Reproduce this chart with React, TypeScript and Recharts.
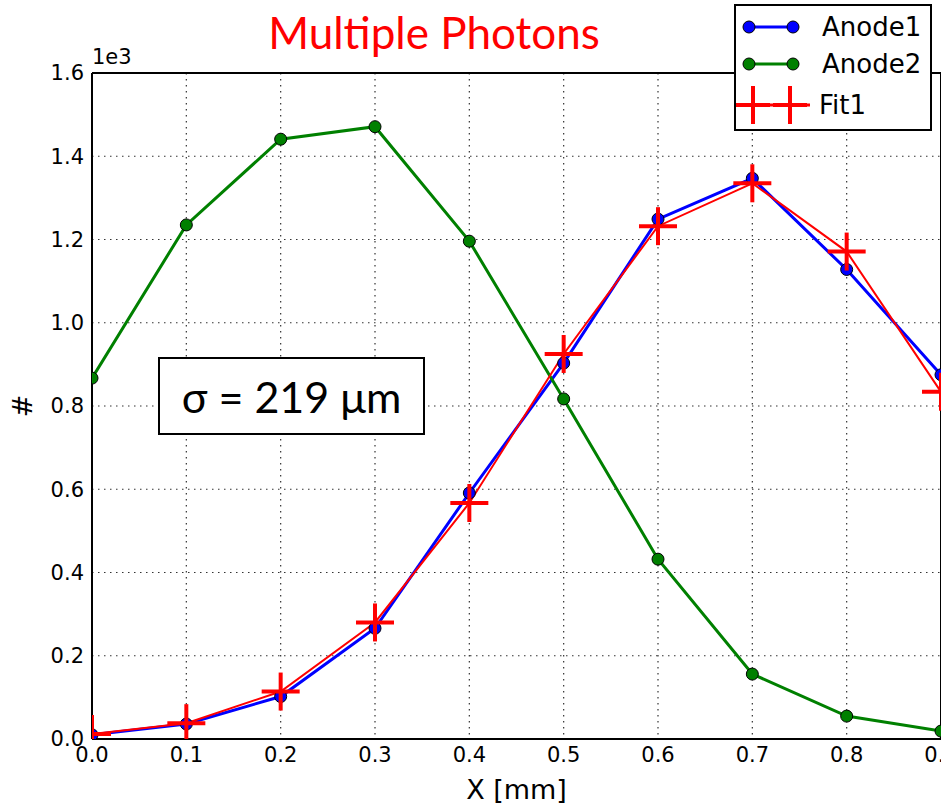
import { LineChart, Line, XAxis, YAxis, CartesianGrid, ReferenceLine, Legend } from 'recharts';

const xs = [0, 0.1, 0.2, 0.3, 0.4, 0.5, 0.6, 0.7, 0.8, 0.9];
const anode1 = [10, 36, 102, 266, 591, 903, 1249, 1347, 1128, 875];
const anode2 = [867, 1235, 1441, 1471, 1196, 817, 432, 156, 55, 19];
const fit1 = [12, 38, 114, 280, 567, 925, 1232, 1335, 1171, 834];
const yTicks = [0, 200, 400, 600, 800, 1000, 1200, 1400, 1600];

const legendItems = [
  { name: 'Anode1', color: '#0000ff', marker: 'circle' },
  { name: 'Anode2', color: '#008000', marker: 'circle' },
  { name: 'Fit1', color: '#ff0000', marker: 'plus' },
];

const data = xs.map((x, i) => ({ x, anode1: anode1[i], anode2: anode2[i], fit1: fit1[i] }));

const mplFont = '"DejaVu Sans", sans-serif';
const slideFont = 'Lato, "Open Sans", sans-serif';

function plusDot(props: any) {
  const { cx, cy, index } = props;
  if (cx == null || cy == null) return <g key={`fp-${index}`} />;
  return (
    <g key={`fp-${index}`}>
      <line x1={cx - 19} x2={cx + 19} y1={cy} y2={cy} stroke="#ff0000" strokeWidth={4} />
      <line x1={cx} x2={cx} y1={cy - 19} y2={cy + 19} stroke="#ff0000" strokeWidth={4} />
    </g>
  );
}

function MplLegend() {
  const rows = [23, 60, 101];
  return (
    <svg width={198} height={127} style={{ display: 'block' }}>
      <rect x={1} y={1} width={196} height={125} fill="#fff" stroke="#000" strokeWidth={2} />
      {legendItems.map((it, i) => {
        const y = rows[i];
        if (it.marker === 'plus') {
          return (
            <g key={it.name}>
              <line x1={2} x2={76} y1={y} y2={y} stroke={it.color} strokeWidth={3} />
              {[19, 56].map((cx) => (
                <g key={cx}>
                  <line x1={cx - 17} x2={cx + 17} y1={y} y2={y} stroke={it.color} strokeWidth={4} />
                  <line x1={cx} x2={cx} y1={y - 19} y2={y + 19} stroke={it.color} strokeWidth={4} />
                </g>
              ))}
              <text x={85} y={y + 9} fontSize={26} fontFamily={mplFont} fill="#000">{it.name}</text>
            </g>
          );
        }
        return (
          <g key={it.name}>
            <line x1={15} x2={59} y1={y} y2={y} stroke={it.color} strokeWidth={3} />
            <circle cx={15} cy={y} r={6} fill={it.color} stroke="#000" strokeWidth={1} />
            <circle cx={59} cy={y} r={6} fill={it.color} stroke="#000" strokeWidth={1} />
            <text x={88} y={y + 9} fontSize={26} fontFamily={mplFont} fill="#000">{it.name}</text>
          </g>
        );
      })}
    </svg>
  );
}

export default function App() {
  return (
    <div style={{ position: 'absolute', left: 0, top: 0, width: 941, height: 807, overflow: 'hidden', background: '#fff' }}>
      <LineChart width={980} height={807} data={data} margin={{ top: 73, right: 39, bottom: 0, left: 0 }}>
        <CartesianGrid stroke="#333" strokeWidth={1.2} strokeDasharray="1.5 4.5" />
        <XAxis
          dataKey="x"
          type="number"
          domain={[0, 0.9]}
          ticks={xs}
          allowDataOverflow
          height={68}
          tickFormatter={(v: number) => v.toFixed(1)}
          tick={{ fontSize: 21, fill: '#000', fontFamily: mplFont }}
          tickLine={false}
          axisLine={{ stroke: '#000', strokeWidth: 2 }}
          label={{ value: 'X [mm]', position: 'insideBottom', offset: 8, fontSize: 27, fill: '#000', fontFamily: mplFont }}
        />
        <YAxis
          type="number"
          domain={[0, 1600]}
          ticks={yTicks}
          allowDataOverflow
          width={92}
          tickFormatter={(v: number) => (v / 1000).toFixed(1)}
          tick={{ fontSize: 21, fill: '#000', fontFamily: mplFont }}
          tickLine={false}
          axisLine={{ stroke: '#000', strokeWidth: 2 }}
          label={{
            content: () => (
              <text x={22} y={406} transform="rotate(-90 22 406)" textAnchor="middle" dominantBaseline="central" fontSize={27} fontFamily={mplFont} fill="#000">#</text>
            ),
          }}
        />
        <ReferenceLine y={1600} stroke="#000" strokeWidth={2} />
        <ReferenceLine x={0.9} stroke="#000" strokeWidth={2} />
        <Line dataKey="anode1" stroke="#0000ff" strokeWidth={3} isAnimationActive={false}
          dot={{ r: 6, fill: '#0000ff', stroke: '#000', strokeWidth: 1 }} activeDot={false} />
        <Line dataKey="anode2" stroke="#008000" strokeWidth={3} isAnimationActive={false}
          dot={{ r: 6, fill: '#008000', stroke: '#000', strokeWidth: 1 }} activeDot={false} />
        <Line dataKey="fit1" stroke="#ff0000" strokeWidth={2} isAnimationActive={false} dot={plusDot} activeDot={false} />
        <Legend layout="vertical" align="center" verticalAlign="middle" content={() => <MplLegend />}
          wrapperStyle={{ left: 734, top: 4, width: 198, height: 127 }} />
      </LineChart>
      <div style={{ position: 'absolute', left: 0, width: 868, top: 7, textAlign: 'center', color: '#ff0000', fontFamily: slideFont, fontSize: 44, lineHeight: '50px' }}>
        Multiple Photons
      </div>
      <div style={{ position: 'absolute', left: 92, top: 47, fontFamily: mplFont, fontSize: 21, lineHeight: '21px', color: '#000' }}>1e3</div>
      <div style={{ position: 'absolute', left: 158, top: 357, width: 263, height: 74, border: '2px solid #000', background: '#fff', display: 'flex', alignItems: 'center', justifyContent: 'center', fontFamily: slideFont, fontSize: 43, color: '#000' }}>
        σ = 219 μm
      </div>
    </div>
  );
}
